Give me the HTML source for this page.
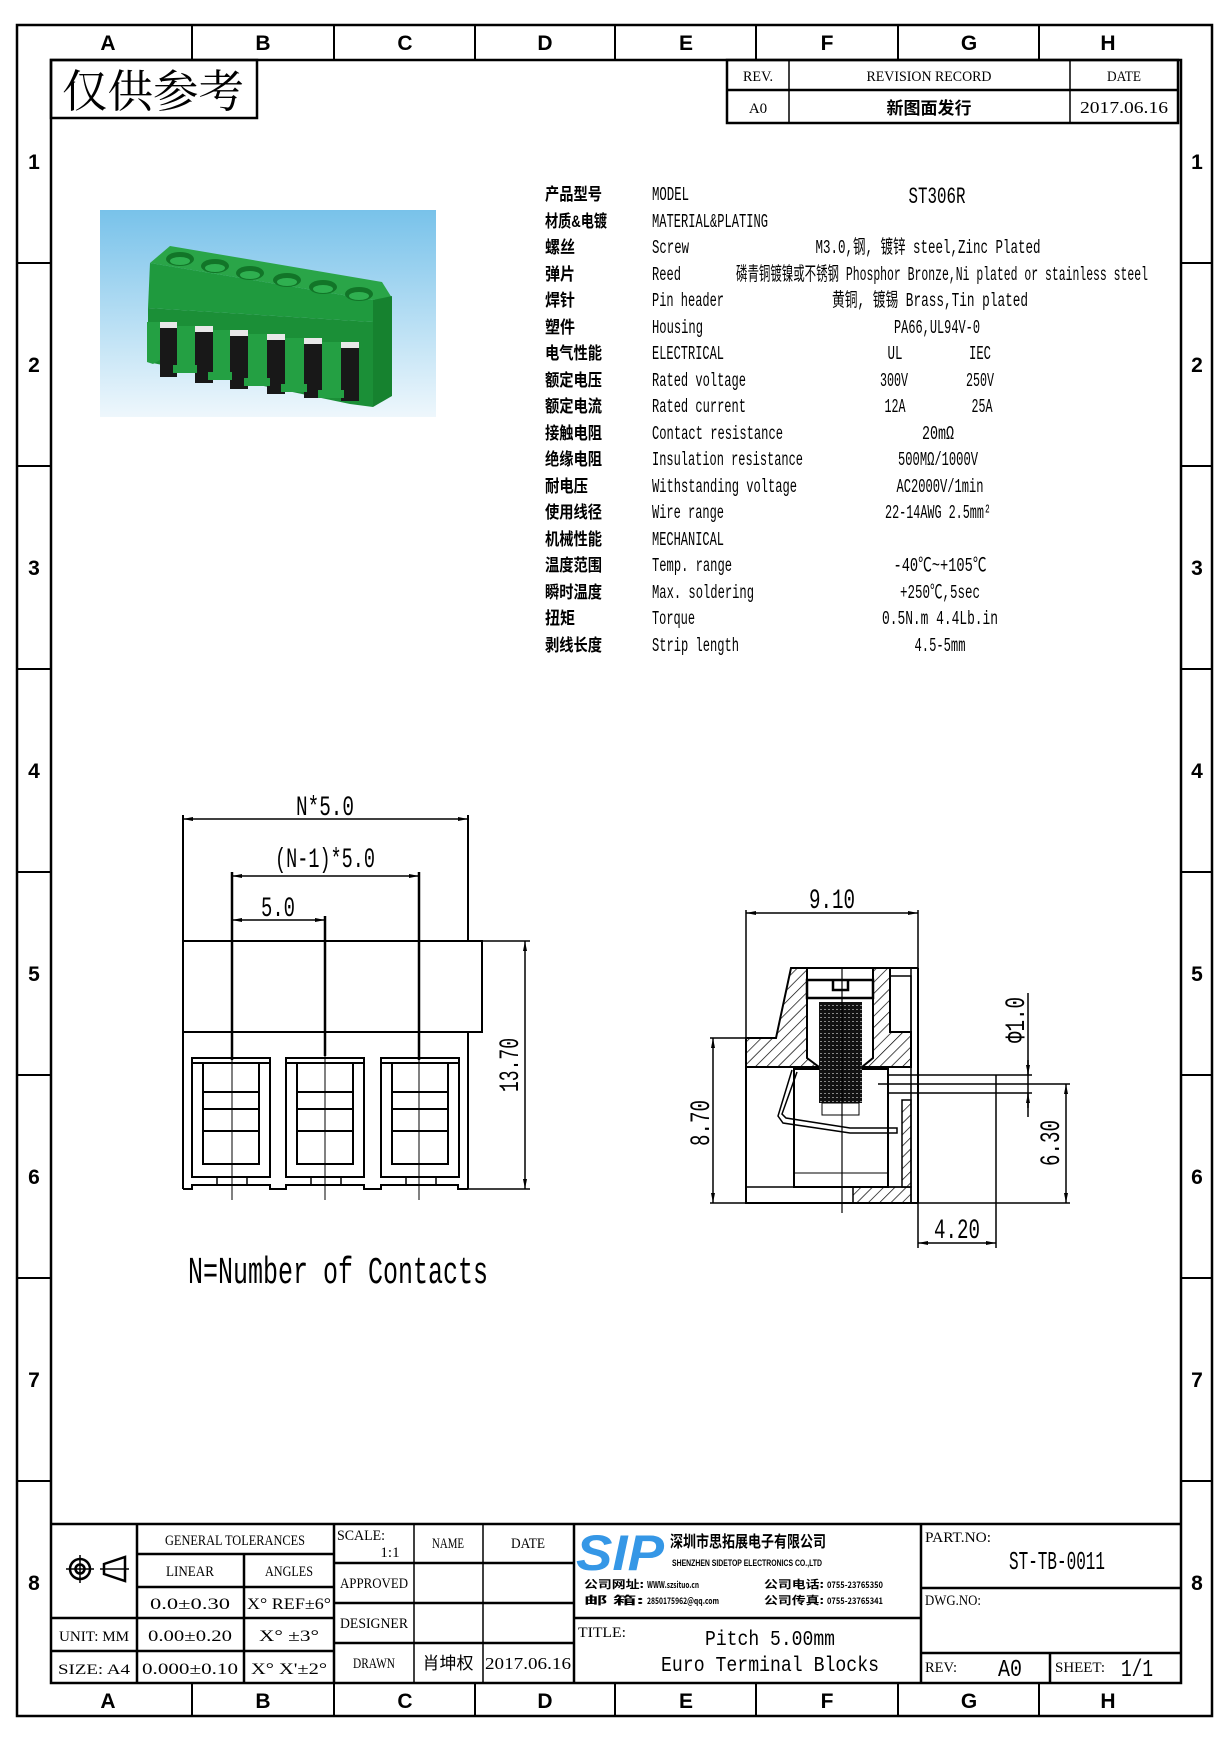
<!DOCTYPE html>
<html><head><meta charset="utf-8"><style>
html,body{margin:0;padding:0;background:#fff;}
svg{display:block;}
.m{font-family:"Liberation Sans",sans-serif;font-weight:bold;font-size:21px;text-anchor:middle;}
.t{font-family:"Liberation Serif","Noto Serif CJK SC",serif;font-size:15px;}
.c{font-family:"Liberation Sans","Noto Sans CJK SC",sans-serif;font-weight:bold;font-size:17px;}
.e{font-family:"Liberation Mono","Noto Sans CJK SC",monospace;font-size:19px;}
.d{font-family:"Liberation Mono",monospace;font-size:28px;}
</style></head><body>
<svg width="1232" height="1743" viewBox="0 0 1232 1743" xmlns="http://www.w3.org/2000/svg">
<defs>
<pattern id="h" patternUnits="userSpaceOnUse" width="8" height="8" patternTransform="rotate(45)">
<rect width="8" height="8" fill="#fff"/><line x1="0" y1="0" x2="0" y2="8" stroke="#000" stroke-width="1.4"/></pattern>
<pattern id="th" patternUnits="userSpaceOnUse" width="4" height="4">
<rect width="4" height="4" fill="#111"/><rect x="0" y="1" width="2" height="1" fill="#888"/></pattern>
<linearGradient id="bg" x1="0" y1="0" x2="0" y2="1"><stop offset="0" stop-color="#78c2ea"/><stop offset="1" stop-color="#eef7fc"/></linearGradient>
<marker id="a" viewBox="0 0 10 4" refX="10" refY="2" markerWidth="10" markerHeight="4" orient="auto-start-reverse" markerUnits="userSpaceOnUse"><path d="M0,0L10,2L0,4Z" fill="#000"/></marker>
</defs>

<!-- outer frame -->
<g fill="none" stroke="#000" stroke-width="2.5">
<rect x="17" y="25" width="1195" height="1691"/>
<rect x="51" y="60" width="1130" height="1623"/>
</g>
<g stroke="#000" stroke-width="2">
<line x1="192" y1="25" x2="192" y2="60"/><line x1="334" y1="25" x2="334" y2="60"/><line x1="475" y1="25" x2="475" y2="60"/><line x1="615" y1="25" x2="615" y2="60"/><line x1="756" y1="25" x2="756" y2="60"/><line x1="898" y1="25" x2="898" y2="60"/><line x1="1039" y1="25" x2="1039" y2="60"/>
<line x1="192" y1="1683" x2="192" y2="1716"/><line x1="334" y1="1683" x2="334" y2="1716"/><line x1="475" y1="1683" x2="475" y2="1716"/><line x1="615" y1="1683" x2="615" y2="1716"/><line x1="756" y1="1683" x2="756" y2="1716"/><line x1="898" y1="1683" x2="898" y2="1716"/><line x1="1039" y1="1683" x2="1039" y2="1716"/>
<line x1="17" y1="263" x2="51" y2="263"/><line x1="17" y1="466" x2="51" y2="466"/><line x1="17" y1="669" x2="51" y2="669"/><line x1="17" y1="872" x2="51" y2="872"/><line x1="17" y1="1075" x2="51" y2="1075"/><line x1="17" y1="1278" x2="51" y2="1278"/><line x1="17" y1="1481" x2="51" y2="1481"/>
<line x1="1181" y1="263" x2="1212" y2="263"/><line x1="1181" y1="466" x2="1212" y2="466"/><line x1="1181" y1="669" x2="1212" y2="669"/><line x1="1181" y1="872" x2="1212" y2="872"/><line x1="1181" y1="1075" x2="1212" y2="1075"/><line x1="1181" y1="1278" x2="1212" y2="1278"/><line x1="1181" y1="1481" x2="1212" y2="1481"/>
</g>
<g class="m">
<text x="108" y="50">A</text><text x="263" y="50">B</text><text x="405" y="50">C</text><text x="545" y="50">D</text><text x="686" y="50">E</text><text x="827" y="50">F</text><text x="969" y="50">G</text><text x="1108" y="50">H</text>
<text x="108" y="1708">A</text><text x="263" y="1708">B</text><text x="405" y="1708">C</text><text x="545" y="1708">D</text><text x="686" y="1708">E</text><text x="827" y="1708">F</text><text x="969" y="1708">G</text><text x="1108" y="1708">H</text>
<text x="34" y="169">1</text><text x="34" y="372">2</text><text x="34" y="575">3</text><text x="34" y="778">4</text><text x="34" y="981">5</text><text x="34" y="1184">6</text><text x="34" y="1387">7</text><text x="34" y="1590">8</text>
<text x="1197" y="169">1</text><text x="1197" y="372">2</text><text x="1197" y="575">3</text><text x="1197" y="778">4</text><text x="1197" y="981">5</text><text x="1197" y="1184">6</text><text x="1197" y="1387">7</text><text x="1197" y="1590">8</text>
</g>

<!-- 仅供参考 -->
<rect x="51" y="60" width="206" height="58" fill="none" stroke="#000" stroke-width="2.5"/>
<text x="62" y="107" font-family="'Noto Serif CJK SC','Noto Sans CJK SC',serif" font-size="45" textLength="182" lengthAdjust="spacingAndGlyphs">仅供参考</text>

<!-- revision table -->
<g fill="none" stroke="#000" stroke-width="2.5">
<rect x="727" y="60" width="451" height="63"/>
<line x1="727" y1="90" x2="1178" y2="90"/>
</g>
<g stroke="#000" stroke-width="1.5"><line x1="789" y1="60" x2="789" y2="123"/><line x1="1070" y1="60" x2="1070" y2="123"/></g>
<g class="t" text-anchor="middle">
<text x="758" y="81" textLength="30" lengthAdjust="spacingAndGlyphs">REV.</text>
<text x="929" y="81" textLength="125" lengthAdjust="spacingAndGlyphs">REVISION RECORD</text>
<text x="1124" y="81" textLength="34" lengthAdjust="spacingAndGlyphs">DATE</text>
<text x="758" y="113">A0</text>
<text x="929" y="114" font-family="'Noto Sans CJK SC',sans-serif" font-size="17" font-weight="bold">新图面发行</text>
<text x="1124" y="113" font-size="17" textLength="88" lengthAdjust="spacingAndGlyphs">2017.06.16</text>
</g>

<!-- photo -->
<rect x="100" y="210" width="336" height="207" fill="url(#bg)"/>
<g>
<polygon points="150,263 170,246 382,282 392,298 373,300" fill="#2aa548"/>
<polygon points="150,263 373,300 373,322 148,308" fill="#1f9a3e"/>
<polygon points="373,300 392,296 392,396 373,407" fill="#16822f"/>
<polygon points="148,308 373,322 373,407 350,404 148,362" fill="#1b8f37"/>
<g fill="#181818">
<rect x="160" y="325" width="17" height="52"/><rect x="195" y="329" width="18" height="54"/><rect x="230" y="333" width="18" height="56"/><rect x="267" y="337" width="18" height="57"/><rect x="304" y="341" width="18" height="57"/><rect x="341" y="345" width="18" height="56"/>
</g>
<g fill="#e8e8e8"><rect x="160" y="322" width="17" height="6"/><rect x="195" y="326" width="18" height="6"/><rect x="230" y="330" width="18" height="6"/><rect x="267" y="334" width="18" height="6"/><rect x="304" y="338" width="18" height="6"/><rect x="341" y="342" width="18" height="6"/></g>
<g fill="#24a043">
<polygon points="147,322 160,322 160,360 153,364 147,362"/><rect x="177" y="326" width="18" height="47"/><rect x="213" y="330" width="17" height="50"/><rect x="248" y="334" width="19" height="52"/><rect x="285" y="338" width="19" height="54"/><rect x="322" y="342" width="19" height="56"/>
<rect x="173" y="365" width="24" height="8"/><rect x="208" y="372" width="24" height="8"/><rect x="244" y="378" width="26" height="8"/><rect x="281" y="384" width="26" height="8"/><rect x="318" y="390" width="26" height="8"/>
</g>
<g fill="#127528"><ellipse cx="180" cy="259" rx="14" ry="7"/><ellipse cx="215" cy="266" rx="14" ry="7"/><ellipse cx="250" cy="273" rx="14" ry="7"/><ellipse cx="287" cy="280" rx="14" ry="7"/><ellipse cx="323" cy="287" rx="14" ry="7"/><ellipse cx="359" cy="294" rx="14" ry="7"/></g>
<g fill="#2fb050"><ellipse cx="180" cy="261" rx="10" ry="4"/><ellipse cx="215" cy="268" rx="10" ry="4"/><ellipse cx="250" cy="275" rx="10" ry="4"/><ellipse cx="287" cy="282" rx="10" ry="4"/><ellipse cx="323" cy="289" rx="10" ry="4"/><ellipse cx="359" cy="296" rx="10" ry="4"/></g>
</g>

<!-- spec table -->
<g class="c">
<text x="545" y="200" textLength="57" lengthAdjust="spacingAndGlyphs">产品型号</text>
<text x="545" y="227" textLength="62" lengthAdjust="spacingAndGlyphs">材质&amp;电镀</text>
<text x="545" y="253" textLength="30" lengthAdjust="spacingAndGlyphs">螺丝</text>
<text x="545" y="280" textLength="30" lengthAdjust="spacingAndGlyphs">弹片</text>
<text x="545" y="306" textLength="30" lengthAdjust="spacingAndGlyphs">焊针</text>
<text x="545" y="333" textLength="30" lengthAdjust="spacingAndGlyphs">塑件</text>
<text x="545" y="359" textLength="57" lengthAdjust="spacingAndGlyphs">电气性能</text>
<text x="545" y="386" textLength="57" lengthAdjust="spacingAndGlyphs">额定电压</text>
<text x="545" y="412" textLength="57" lengthAdjust="spacingAndGlyphs">额定电流</text>
<text x="545" y="439" textLength="57" lengthAdjust="spacingAndGlyphs">接触电阻</text>
<text x="545" y="465" textLength="57" lengthAdjust="spacingAndGlyphs">绝缘电阻</text>
<text x="545" y="492" textLength="43" lengthAdjust="spacingAndGlyphs">耐电压</text>
<text x="545" y="518" textLength="57" lengthAdjust="spacingAndGlyphs">使用线径</text>
<text x="545" y="545" textLength="57" lengthAdjust="spacingAndGlyphs">机械性能</text>
<text x="545" y="571" textLength="57" lengthAdjust="spacingAndGlyphs">温度范围</text>
<text x="545" y="598" textLength="57" lengthAdjust="spacingAndGlyphs">瞬时温度</text>
<text x="545" y="624" textLength="30" lengthAdjust="spacingAndGlyphs">扭矩</text>
<text x="545" y="651" textLength="57" lengthAdjust="spacingAndGlyphs">剥线长度</text>
</g>
<g class="e">
<text x="652" y="200" textLength="37" lengthAdjust="spacingAndGlyphs">MODEL</text>
<text x="652" y="227" textLength="116" lengthAdjust="spacingAndGlyphs">MATERIAL&amp;PLATING</text>
<text x="652" y="253" textLength="37" lengthAdjust="spacingAndGlyphs">Screw</text>
<text x="652" y="280" textLength="29" lengthAdjust="spacingAndGlyphs">Reed</text>
<text x="652" y="306" textLength="72" lengthAdjust="spacingAndGlyphs">Pin header</text>
<text x="652" y="333" textLength="51" lengthAdjust="spacingAndGlyphs">Housing</text>
<text x="652" y="359" textLength="72" lengthAdjust="spacingAndGlyphs">ELECTRICAL</text>
<text x="652" y="386" textLength="94" lengthAdjust="spacingAndGlyphs">Rated voltage</text>
<text x="652" y="412" textLength="94" lengthAdjust="spacingAndGlyphs">Rated current</text>
<text x="652" y="439" textLength="131" lengthAdjust="spacingAndGlyphs">Contact resistance</text>
<text x="652" y="465" textLength="151" lengthAdjust="spacingAndGlyphs">Insulation resistance</text>
<text x="652" y="492" textLength="145" lengthAdjust="spacingAndGlyphs">Withstanding voltage</text>
<text x="652" y="518" textLength="72" lengthAdjust="spacingAndGlyphs">Wire range</text>
<text x="652" y="545" textLength="72" lengthAdjust="spacingAndGlyphs">MECHANICAL</text>
<text x="652" y="571" textLength="80" lengthAdjust="spacingAndGlyphs">Temp. range</text>
<text x="652" y="598" textLength="102" lengthAdjust="spacingAndGlyphs">Max. soldering</text>
<text x="652" y="624" textLength="43" lengthAdjust="spacingAndGlyphs">Torque</text>
<text x="652" y="651" textLength="87" lengthAdjust="spacingAndGlyphs">Strip length</text>
</g>
<g class="e" text-anchor="middle">
<text x="937" y="203" font-size="23" textLength="57" lengthAdjust="spacingAndGlyphs">ST306R</text>
<text x="928" y="253" textLength="225" lengthAdjust="spacingAndGlyphs">M3.0,钢, 镀锌 steel,Zinc Plated</text>
<text x="942" y="280" textLength="412" lengthAdjust="spacingAndGlyphs">磷青铜镀镍或不锈钢 Phosphor Bronze,Ni plated or stainless steel</text>
<text x="930" y="306" textLength="196" lengthAdjust="spacingAndGlyphs">黄铜, 镀锡 Brass,Tin plated</text>
<text x="937" y="333" textLength="86" lengthAdjust="spacingAndGlyphs">PA66,UL94V-0</text>
<text x="895" y="359" textLength="15" lengthAdjust="spacingAndGlyphs">UL</text>
<text x="980" y="359" textLength="22" lengthAdjust="spacingAndGlyphs">IEC</text>
<text x="894" y="386" textLength="28" lengthAdjust="spacingAndGlyphs">300V</text>
<text x="980" y="386" textLength="28" lengthAdjust="spacingAndGlyphs">250V</text>
<text x="895" y="412" textLength="21" lengthAdjust="spacingAndGlyphs">12A</text>
<text x="982" y="412" textLength="21" lengthAdjust="spacingAndGlyphs">25A</text>
<text x="938" y="439" textLength="32" lengthAdjust="spacingAndGlyphs">20mΩ</text>
<text x="938" y="465" textLength="80" lengthAdjust="spacingAndGlyphs">500MΩ/1000V</text>
<text x="940" y="492" textLength="87" lengthAdjust="spacingAndGlyphs">AC2000V/1min</text>
<text x="938" y="518" textLength="106" lengthAdjust="spacingAndGlyphs">22-14AWG 2.5mm²</text>
<text x="940" y="571" textLength="93" lengthAdjust="spacingAndGlyphs">-40℃~+105℃</text>
<text x="940" y="598" textLength="80" lengthAdjust="spacingAndGlyphs">+250℃,5sec</text>
<text x="940" y="624" textLength="116" lengthAdjust="spacingAndGlyphs">0.5N.m  4.4Lb.in</text>
<text x="940" y="651" textLength="51" lengthAdjust="spacingAndGlyphs">4.5-5mm</text>
</g>

<!-- front view -->
<g fill="none" stroke="#000" stroke-width="2">
<line x1="183" y1="815" x2="183" y2="1189"/>
<line x1="468" y1="815" x2="468" y2="941"/>
<line x1="468" y1="1032" x2="468" y2="1189"/>
<rect x="183" y="941" width="299" height="91"/>
<line x1="232" y1="872" x2="232" y2="1060" stroke-width="2.5"/>
<line x1="325" y1="916" x2="325" y2="1056" stroke-width="2.5"/>
<line x1="419" y1="872" x2="419" y2="1060" stroke-width="2.5"/>
<polyline points="183,1189 192,1189 192,1185 270,1185 270,1189 286,1189 286,1185 364,1185 364,1189 381,1189 381,1185 458,1185 458,1189 468,1189"/>
<line x1="468" y1="1189" x2="530" y2="1189" stroke-width="1.5"/>
<line x1="482" y1="941" x2="530" y2="941" stroke-width="1.5"/>
</g>
<g fill="none" stroke="#000" stroke-width="1.5">
<line x1="183" y1="819" x2="468" y2="819" marker-start="url(#a)" marker-end="url(#a)"/>
<line x1="232" y1="876" x2="419" y2="876" marker-start="url(#a)" marker-end="url(#a)"/>
<line x1="232" y1="920" x2="325" y2="920" marker-start="url(#a)" marker-end="url(#a)"/>
<line x1="525" y1="941" x2="525" y2="1189" marker-start="url(#a)" marker-end="url(#a)"/>
<line x1="232" y1="1060" x2="232" y2="1200" stroke-width="1"/>
<line x1="325" y1="1056" x2="325" y2="1200" stroke-width="1"/>
<line x1="419" y1="1060" x2="419" y2="1200" stroke-width="1"/>
</g>
<g fill="none" stroke="#000" stroke-width="2">
<g id="cav">
<rect x="192" y="1058" width="78" height="119"/>
<line x1="192" y1="1063" x2="270" y2="1063"/>
<rect x="203" y="1063" width="56" height="101"/>
<line x1="203" y1="1092" x2="259" y2="1092"/><line x1="203" y1="1109" x2="259" y2="1109"/><line x1="203" y1="1131" x2="259" y2="1131"/>
<line x1="217" y1="1177" x2="217" y2="1185" stroke-width="1.5"/><line x1="247" y1="1177" x2="247" y2="1185" stroke-width="1.5"/>
</g>
<use href="#cav" x="94"/><use href="#cav" x="189"/>
</g>
<g class="d" text-anchor="middle">
<text x="325" y="815" textLength="58" lengthAdjust="spacingAndGlyphs">N*5.0</text>
<text x="325" y="867" textLength="100" lengthAdjust="spacingAndGlyphs">(N-1)*5.0</text>
<text x="278" y="916" textLength="34" lengthAdjust="spacingAndGlyphs">5.0</text>
<text x="0" y="0" transform="translate(518,1065) rotate(-90)" textLength="54" lengthAdjust="spacingAndGlyphs">13.70</text>
</g>
<text x="188" y="1283" font-family="'Liberation Mono',monospace" font-size="38" textLength="300" lengthAdjust="spacingAndGlyphs">N=Number of Contacts</text>

<!-- side view -->
<polygon points="746,1038 776,1038 791,968 807,968 807,1058 819,1067 746,1067" fill="url(#h)" stroke="#000" stroke-width="2"/>
<polygon points="873,968 890,968 890,1032 911,1032 911,1067 862,1067 873,1058" fill="url(#h)" stroke="#000" stroke-width="2"/>
<rect x="853" y="1187" width="58" height="16" fill="url(#h)" stroke="#000" stroke-width="1.5"/>
<rect x="902" y="1100" width="9" height="87" fill="url(#h)" stroke="#000" stroke-width="1.5"/>
<g fill="none" stroke="#000" stroke-width="2">
<line x1="791" y1="968" x2="918" y2="968"/>
<line x1="918" y1="968" x2="918" y2="1203"/>
<line x1="911" y1="968" x2="911" y2="1203" stroke-width="1.5"/>
<polyline points="746,1038 746,1203 918,1203"/>
<line x1="746" y1="1187" x2="911" y2="1187" stroke-width="1.5"/>
<rect x="890" y="976" width="21" height="56" stroke-width="1.5"/>
<rect x="794" y="1069" width="94" height="118"/>
<line x1="794" y1="1173" x2="888" y2="1173" stroke-width="1"/>
<path d="M807,980 H873 V998 H807 Z M833,980 V990 H848 V980" stroke-width="2.5"/>
<polyline points="797,1072 782,1114 786,1118 850,1128 897,1128 897,1133 850,1133 783,1123 778,1116 792,1070" stroke-width="1.5"/>
<line x1="888" y1="1075" x2="1032" y2="1075" stroke-width="1.5"/>
<line x1="888" y1="1093" x2="1032" y2="1093" stroke-width="1.5"/>
<line x1="878" y1="1084" x2="1070" y2="1084" stroke-width="1.5"/>
<line x1="888" y1="1069" x2="888" y2="1187" stroke-width="1.5"/>
</g>
<rect x="819" y="1002" width="43" height="101" fill="url(#th)"/>
<rect x="822" y="1103" width="37" height="12" fill="none" stroke="#000" stroke-width="1"/>
<line x1="842" y1="968" x2="842" y2="1213" stroke="#000" stroke-width="1.2"/>
<g fill="none" stroke="#000" stroke-width="1.5">
<line x1="746" y1="910" x2="746" y2="1038"/>
<line x1="918" y1="910" x2="918" y2="968"/>
<line x1="746" y1="913" x2="918" y2="913" marker-start="url(#a)" marker-end="url(#a)"/>
<line x1="710" y1="1038" x2="746" y2="1038"/>
<line x1="710" y1="1203" x2="746" y2="1203"/>
<line x1="713" y1="1038" x2="713" y2="1203" marker-start="url(#a)" marker-end="url(#a)"/>
<line x1="918" y1="1203" x2="1070" y2="1203"/>
<line x1="1066" y1="1084" x2="1066" y2="1203" marker-start="url(#a)" marker-end="url(#a)"/>
<line x1="918" y1="1203" x2="918" y2="1248"/>
<line x1="996" y1="1075" x2="996" y2="1248"/>
<line x1="918" y1="1243" x2="996" y2="1243" marker-start="url(#a)" marker-end="url(#a)"/>
<line x1="1028" y1="993" x2="1028" y2="1117"/>
<line x1="1028" y1="1060" x2="1028" y2="1075" marker-end="url(#a)"/>
<line x1="1028" y1="1108" x2="1028" y2="1093" marker-end="url(#a)"/>
</g>
<g class="d" text-anchor="middle">
<text x="832" y="908" textLength="46" lengthAdjust="spacingAndGlyphs">9.10</text>
<text x="957" y="1238" textLength="46" lengthAdjust="spacingAndGlyphs">4.20</text>
<text x="0" y="0" transform="translate(709,1123) rotate(-90)" textLength="46" lengthAdjust="spacingAndGlyphs">8.70</text>
<text x="0" y="0" transform="translate(1059,1143) rotate(-90)" textLength="46" lengthAdjust="spacingAndGlyphs">6.30</text>
<text x="0" y="0" transform="translate(1024,1020) rotate(-90)" textLength="46" lengthAdjust="spacingAndGlyphs">Φ1.0</text>
</g>

<!-- title block -->
<g fill="none" stroke="#000" stroke-width="2.5">
<line x1="51" y1="1524" x2="1181" y2="1524"/>
<line x1="137" y1="1524" x2="137" y2="1683"/><line x1="244" y1="1554" x2="244" y2="1683"/>
<line x1="334" y1="1524" x2="334" y2="1683"/><line x1="414" y1="1524" x2="414" y2="1683" stroke-width="1.5"/>
<line x1="483" y1="1524" x2="483" y2="1683" stroke-width="1.5"/><line x1="574" y1="1524" x2="574" y2="1683"/>
<line x1="921" y1="1524" x2="921" y2="1683"/><line x1="1050" y1="1653" x2="1050" y2="1683"/>
<line x1="137" y1="1554" x2="334" y2="1554"/><line x1="137" y1="1587" x2="334" y2="1587"/>
<line x1="51" y1="1618" x2="334" y2="1618"/><line x1="51" y1="1651" x2="334" y2="1651"/>
<line x1="334" y1="1563" x2="574" y2="1563"/><line x1="334" y1="1603" x2="574" y2="1603"/><line x1="334" y1="1643" x2="574" y2="1643"/>
<line x1="574" y1="1618" x2="921" y2="1618"/>
<line x1="921" y1="1588" x2="1181" y2="1588"/><line x1="921" y1="1653" x2="1181" y2="1653"/>
</g>
<g fill="none" stroke="#000" stroke-width="2.5">
<circle cx="80" cy="1569" r="10"/><circle cx="80" cy="1569" r="4.5"/>
<line x1="66" y1="1569" x2="94" y2="1569" stroke-width="1.5"/><line x1="80" y1="1555" x2="80" y2="1583" stroke-width="1.5"/>
<polygon points="104,1564 125,1557 125,1581 104,1574"/>
<line x1="100" y1="1569" x2="129" y2="1569" stroke-width="1.5"/>
</g>
<g class="t" text-anchor="middle" font-size="14">
<text x="235" y="1545" textLength="140" lengthAdjust="spacingAndGlyphs">GENERAL TOLERANCES</text>
<text x="190" y="1576" textLength="48" lengthAdjust="spacingAndGlyphs">LINEAR</text>
<text x="289" y="1576" textLength="48" lengthAdjust="spacingAndGlyphs">ANGLES</text>
<text x="190" y="1609" font-size="16" textLength="80" lengthAdjust="spacingAndGlyphs">0.0±0.30</text>
<text x="289" y="1609" font-size="16" textLength="84" lengthAdjust="spacingAndGlyphs">X° REF±6°</text>
<text x="94" y="1641" textLength="70" lengthAdjust="spacingAndGlyphs">UNIT: MM</text>
<text x="190" y="1641" font-size="16" textLength="84" lengthAdjust="spacingAndGlyphs">0.00±0.20</text>
<text x="289" y="1641" font-size="16" textLength="60" lengthAdjust="spacingAndGlyphs">X° ±3°</text>
<text x="94" y="1674" textLength="72" lengthAdjust="spacingAndGlyphs">SIZE: A4</text>
<text x="190" y="1674" font-size="16" textLength="96" lengthAdjust="spacingAndGlyphs">0.000±0.10</text>
<text x="289" y="1674" font-size="16" textLength="76" lengthAdjust="spacingAndGlyphs">X° X'±2°</text>
<text x="448" y="1548" textLength="32" lengthAdjust="spacingAndGlyphs">NAME</text>
<text x="528" y="1548" textLength="34" lengthAdjust="spacingAndGlyphs">DATE</text>
<text x="374" y="1588" textLength="68" lengthAdjust="spacingAndGlyphs">APPROVED</text>
<text x="374" y="1628" textLength="68" lengthAdjust="spacingAndGlyphs">DESIGNER</text>
<text x="374" y="1668" textLength="42" lengthAdjust="spacingAndGlyphs">DRAWN</text>
<text x="448" y="1669" font-family="'Noto Sans CJK SC',sans-serif" font-size="17">肖坤权</text>
<text x="528" y="1669" font-size="17" textLength="86" lengthAdjust="spacingAndGlyphs">2017.06.16</text>
<text x="390" y="1557" font-size="15">1:1</text>
</g>
<g class="t" font-size="14">
<text x="337" y="1540" textLength="48" lengthAdjust="spacingAndGlyphs">SCALE:</text>
<text x="578" y="1637" textLength="48" lengthAdjust="spacingAndGlyphs">TITLE:</text>
<text x="925" y="1542" textLength="66" lengthAdjust="spacingAndGlyphs">PART.NO:</text>
<text x="925" y="1605" textLength="56" lengthAdjust="spacingAndGlyphs">DWG.NO:</text>
<text x="925" y="1672" textLength="32" lengthAdjust="spacingAndGlyphs">REV:</text>
<text x="1055" y="1672" textLength="50" lengthAdjust="spacingAndGlyphs">SHEET:</text>
</g>
<g font-family="'Liberation Mono',monospace" text-anchor="middle">
<text x="770" y="1645" font-size="21" textLength="130" lengthAdjust="spacingAndGlyphs">Pitch 5.00mm</text>
<text x="770" y="1671" font-size="21" textLength="218" lengthAdjust="spacingAndGlyphs">Euro Terminal Blocks</text>
<text x="1057" y="1569" font-size="26" textLength="96" lengthAdjust="spacingAndGlyphs">ST-TB-0011</text>
<text x="1010" y="1676" font-size="24" textLength="24" lengthAdjust="spacingAndGlyphs">A0</text>
<text x="1137" y="1676" font-size="24" textLength="32" lengthAdjust="spacingAndGlyphs">1/1</text>
</g>
<!-- logo -->
<text x="576" y="1570" font-family="'Liberation Sans',sans-serif" font-weight="bold" font-style="italic" font-size="50" fill="#3597e6" textLength="88" lengthAdjust="spacingAndGlyphs">SIP</text>
<text x="670" y="1547" font-family="'Noto Sans CJK SC',sans-serif" font-weight="bold" font-size="16" textLength="156" lengthAdjust="spacingAndGlyphs">深圳市思拓展电子有限公司</text>
<text x="672" y="1566" font-family="'Liberation Sans',sans-serif" font-weight="bold" font-size="9" textLength="150" lengthAdjust="spacingAndGlyphs">SHENZHEN SIDETOP ELECTRONICS CO.,LTD</text>
<g font-family="'Noto Sans CJK SC',sans-serif" font-weight="bold" font-size="11">
<text x="584" y="1588" textLength="60" lengthAdjust="spacingAndGlyphs">公司网址:</text>
<text x="647" y="1588" font-size="9" textLength="52" lengthAdjust="spacingAndGlyphs">WWW.szsituo.cn</text>
<text x="584" y="1604" textLength="60" lengthAdjust="spacingAndGlyphs">邮     箱:</text>
<text x="647" y="1604" font-size="9" textLength="72" lengthAdjust="spacingAndGlyphs">2850175962@qq.com</text>
<text x="764" y="1588" textLength="60" lengthAdjust="spacingAndGlyphs">公司电话:</text>
<text x="827" y="1588" font-size="9" textLength="56" lengthAdjust="spacingAndGlyphs">0755-23765350</text>
<text x="764" y="1604" textLength="60" lengthAdjust="spacingAndGlyphs">公司传真:</text>
<text x="827" y="1604" font-size="9" textLength="56" lengthAdjust="spacingAndGlyphs">0755-23765341</text>
</g>
</svg>
</body></html>
